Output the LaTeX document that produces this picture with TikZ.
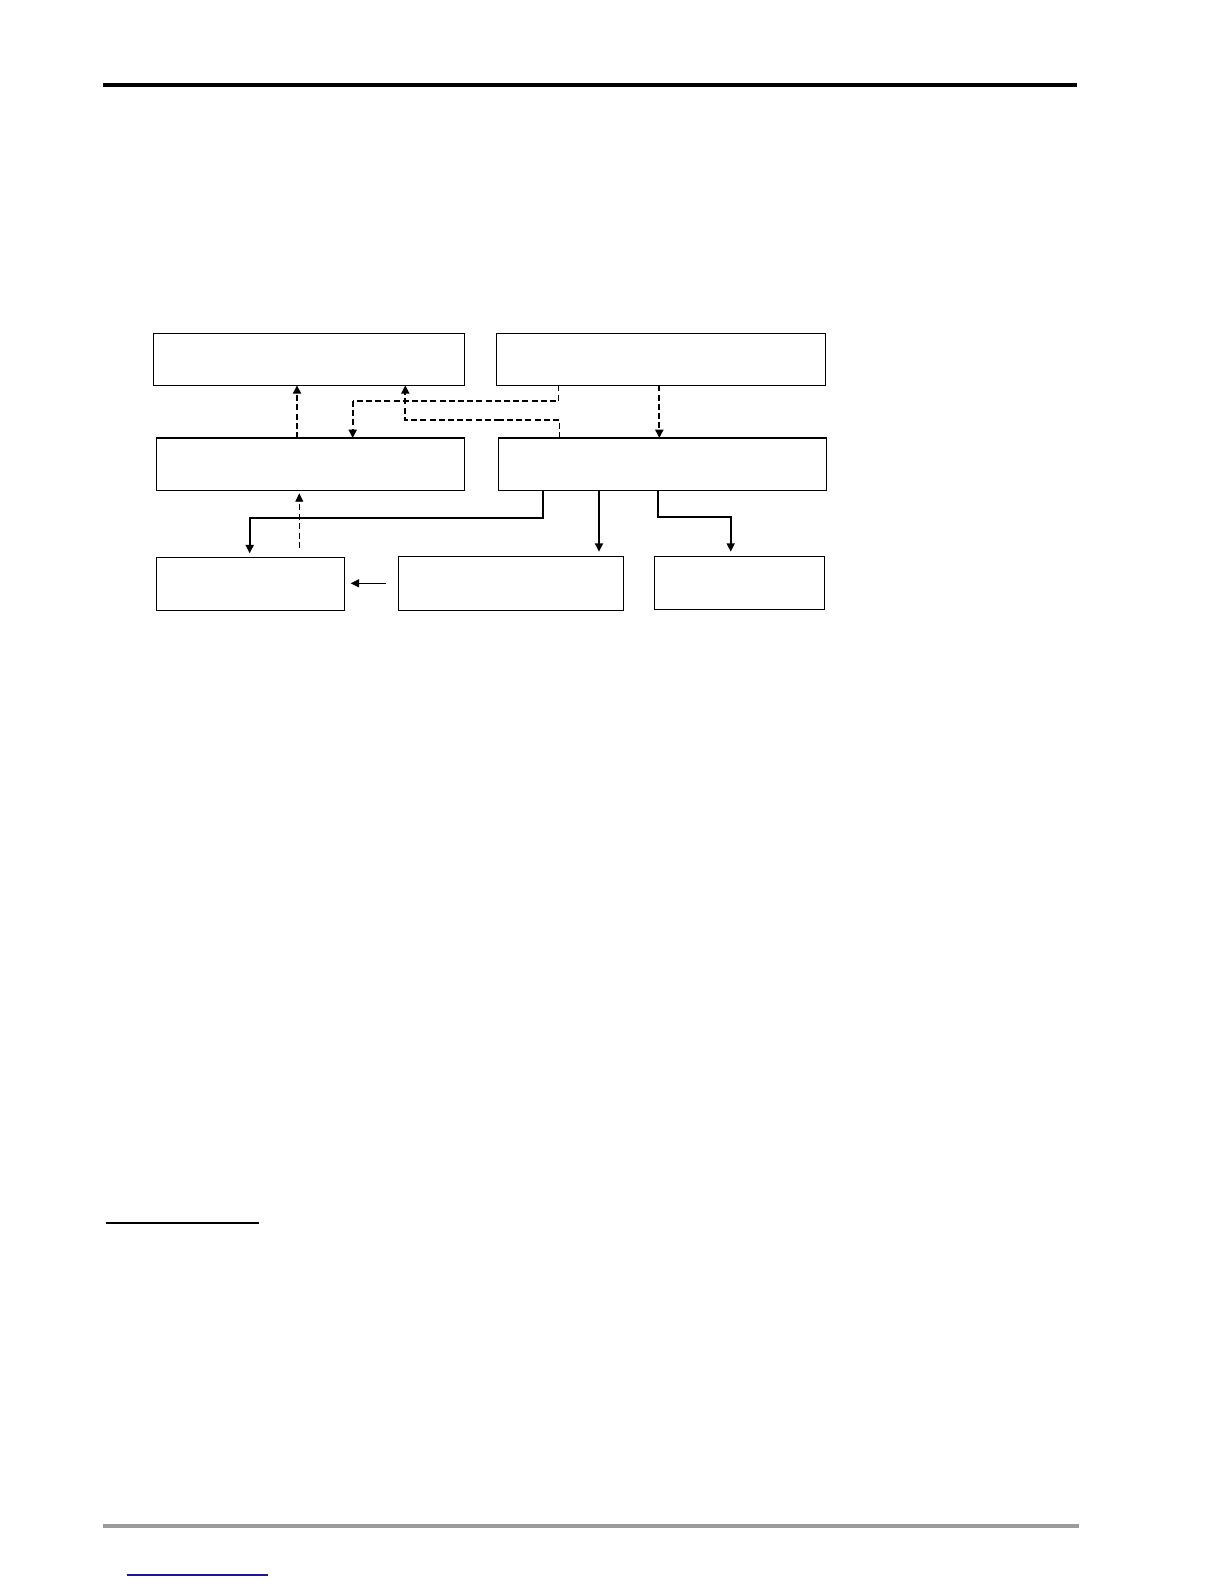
\documentclass[tikz,border=0pt]{standalone}
\usetikzlibrary{arrows.meta,fit}
\definecolor{rulegray}{RGB}{155,155,155}
\definecolor{linkblue}{RGB}{25,25,150}
\begin{document}
\begin{tikzpicture}[x=0.5pt,y=-0.5pt,
  box/.style={draw,line width=0.6pt,inner sep=0pt,outer sep=0pt},
  tip/.style={-{Triangle[length=4.2pt,width=4pt]}},
  dthick/.style={tip,line width=1pt,dash pattern=on 3pt off 1.6pt},
  dmid/.style={line width=0.55pt,dash pattern=on 3pt off 1.6pt},
  dthin/.style={tip,line width=0.45pt,dash pattern=on 3pt off 1.8pt},
  sthick/.style={tip,line width=0.9pt},
  sthin/.style={tip,line width=0.45pt}]
\useasboundingbox (0,0) rectangle (1224,1584);
% page rules
\draw[line width=1.9pt] (103,84.7) -- (1077,84.7);
\draw[line width=1pt] (106,1222.7) -- (258.7,1222.7);
\draw[rulegray,line width=2pt] (103.3,1526) -- (1079,1526);
\draw[linkblue,line width=0.6pt] (126.7,1575) -- (268.3,1575);
% boxes
\node[box,fit={(153.3,333.3) (464.3,385.3)}] (A) {};
\node[box,fit={(496.3,333.3) (825.3,385.3)}] (B) {};
\node[box,fit={(156.3,438) (464.3,490.3)}] (C) {};
\node[box,fit={(498.3,438) (826.7,490.3)}] (D) {};
\node[box,fit={(156.3,557.3) (344.3,610.3)}] (E) {};
\node[box,fit={(398.3,556.3) (623.3,610.3)}] (F) {};
\node[box,fit={(654.3,556.3) (824.3,609.3)}] (G) {};
% helper coordinates
\coordinate (xa) at (297,0);
\coordinate (xb) at (558.7,0);
\coordinate (xc) at (559.3,0);
\coordinate (xd) at (659.3,0);
\coordinate (xe) at (543,0);
\coordinate (xf) at (599,0);
\coordinate (xg) at (658.3,0);
\coordinate (k1) at (352.7,401);
\coordinate (k2) at (405.3,420);
\coordinate (k2r) at (500,420);
\coordinate (k3) at (299.3,548.3);
\coordinate (k4) at (249.7,518.3);
\coordinate (k5) at (730.7,517);
% connectors
\draw[dthick] (C.north -| xa) -- (A.south -| xa);
\draw[dmid] (B.south -| xb) |- (k1);
\draw[dthick] (k1) -- (k1 |- C.north);
\draw[dmid] (D.north -| xc) |- (k2r);
\draw[dthick] (k2r) -- (k2) -- (k2 |- A.south);
\draw[dthick] (B.south -| xd) -- (D.north -| xd);
\draw[dthin,shorten >=1.5pt] (k3) -- (k3 |- C.south);
\draw[sthick,shorten >=2pt] (D.south -| xe) |- (k4) -- (k4 |- E.north);
\draw[sthick,shorten >=2.3pt] (D.south -| xf) -- (F.north -| xf);
\draw[sthick,shorten >=2.3pt] (D.south -| xg) |- (k5) -- (k5 |- G.north);
\draw[sthin,shorten <=6.2pt,shorten >=3.2pt] (F.west) -- (F.west -| E.east);
\end{tikzpicture}
\end{document}
